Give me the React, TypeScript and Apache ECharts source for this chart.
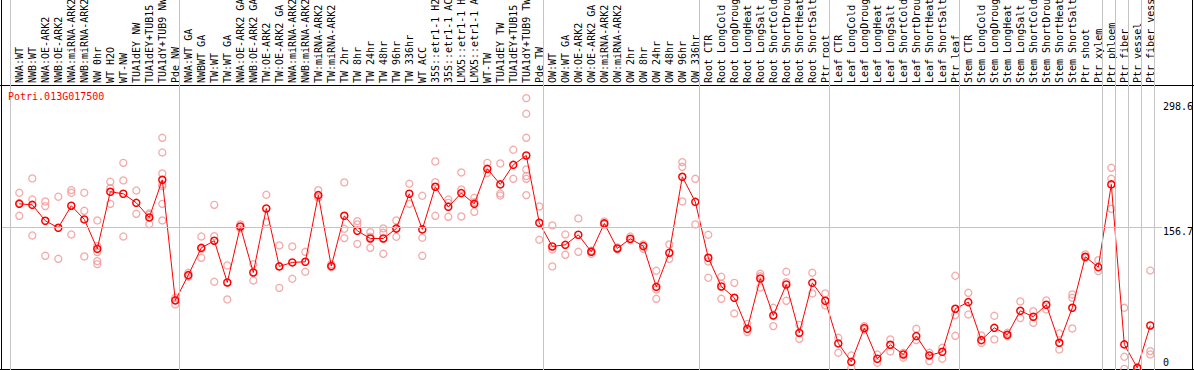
import React, { useEffect, useRef } from "react";
import * as echarts from "echarts";

const geneId = "Potri.013G017500";

const categories = [
  "NWA:WT", "NWB:WT", "NWA:OE-ARK2", "NWB:OE-ARK2", "NWA:miRNA-ARK2", "NWB:miRNA-ARK2",
  "NW 0hr", "WT H2O", "WT-NW", "TUA1dEY NW", "TUA1dEY+TUB15 NW", "TUA1dY+TUB9 NW", "Pde NW",
  "NWA:WT GA", "NWBWT GA", "TW:WT", "TW:WT GA", "NWA:OE-ARK2 GA", "NWB:OE-ARK2 GA",
  "TW:OE-ARK2", "TW:OE-ARK2 GA", "NWA:miRNA-ARK2 GA", "NWB:miRNA-ARK2 GA", "TW:miRNA-ARK2",
  "TW:miRNA-ARK2 GA", "TW 2hr", "TW 8hr", "TW 24hr", "TW 48hr", "TW 96hr", "TW 336hr",
  "WT ACC", "35S::etr1-1 H2O", "35S::etr1-1 ACC", "LMX5::etr1-1 H2O", "LMX5::etr1-1 ACC",
  "WT-TW", "TUA1dEY TW", "TUA1dEY+TUB15 TW", "TUA1dY+TUB9 TW", "Pde TW",
  "OW:WT", "OW:WT GA", "OW:OE-ARK2", "OW:OE-ARK2 GA", "OW:miRNA-ARK2", "OW:miRNA-ARK2 GA",
  "OW 2hr", "OW 8hr", "OW 24hr", "OW 48hr", "OW 96hr", "OW 336hr",
  "Root CTR", "Root LongCold", "Root LongDrought", "Root LongHeat", "Root LongSalt",
  "Root ShortCold", "Root ShortDrought", "Root ShortHeat", "Root ShortSalt", "Ptr root",
  "Leaf CTR", "Leaf LongCold", "Leaf LongDrought", "Leaf LongHeat", "Leaf LongSalt",
  "Leaf ShortCold", "Leaf ShortDrought", "Leaf ShortHeat", "Leaf ShortSalt", "Ptr leaf",
  "Stem CTR", "Stem LongCold", "Stem LongDrought", "Stem LongHeat", "Stem LongSalt",
  "Stem ShortCold", "Stem ShortDrought", "Stem ShortHeat", "Stem ShortSalt", "Ptr shoot",
  "Ptr xylem", "Ptr phloem", "Ptr fiber", "Ptr vessel", "Ptr fiber vessel",
];

const means = [
  182.1, 181.0, 163.4, 155.7, 180.0, 164.9, 132.5, 195.4, 193.2, 183.2, 167.1, 208.6, 75.6,
  103.5, 133.6, 141.4, 95.4, 157.1, 106.4, 177.0, 113.1, 117.5, 118.2, 191.7, 113.4,
  168.9, 152.4, 143.9, 143.9, 154.8, 193.2, 153.9, 200.9, 178.8, 193.9, 182.1,
  220.7, 203.5, 225.1, 235.4, 161.2,
  135.1, 136.9, 148.0, 129.2, 160.5, 132.9, 143.6, 135.5, 90.6, 128.1, 211.9, 184.3,
  122.6, 91.0, 78.5, 44.3, 99.8, 59.0, 93.2, 39.9, 95.0, 75.2,
  28.2, 7.9, 45.1, 11.3, 26.7, 16.0, 36.3, 14.9, 19.0, 66.4,
  73.7, 31.8, 45.4, 37.7, 64.2, 57.6, 70.8, 28.9, 67.5, 123.7, 112.3,
  203.5, 27.1, 1.3, 48.0,
];

const replicates = [
  [194.3, 183, 168.9], [210.1, 186.9, 147.2], [184.7, 179.6, 124.8], [189.9, 121.5],
  [197.2, 194.3, 148.3], [194.3, 174.4, 124.1], [163.8, 135.5, 128.9, 118.9, 115.6],
  [206.4, 199.4, 182.1], [227.3, 207.9, 146.1], [196.8, 171.1], [171.5, 170, 159.7],
  [254.9, 238.7, 215.6, 203.5, 201.6, 182.1, 163.8], [78.5, 76, 71.2],
  [106.1, 103, 101.7], [146.1, 132, 122.6], [181.0, 146.5, 96.2], [114.2, 76.7],
  [159.4, 155], [115.6, 97.6], [192.1, 161.9], [136.2, 113, 89.5], [135.1, 99.5],
  [129.2, 107.2], [197.2, 189.9, 188.8], [115.3, 112.3], [205.7, 154.6, 144.3],
  [163.0, 159.4, 138.0], [150.9, 146, 133.6], [155.0, 150.2, 127.0], [163.8, 155.4, 145.8],
  [204.2, 182.1], [191.0, 144.7, 124.8], [228.8, 206.0, 168.9], [186.9, 183.2, 167.8],
  [216.7, 198.0, 168.2], [188.8, 184, 173.3], [227.3, 216.3], [226.6, 193.5, 191.3],
  [241.7, 209.7], [298.6, 281.4, 254.9, 220.0, 212.7, 209.7, 191.7], [179.2, 142.5],
  [158.3, 131.8, 113.1], [148.3, 125.9], [166.0, 129.2], [130.3, 130, 127.0],
  [162.7, 159.4], [134, 132], [146.1, 142.1], [137.3, 132.5], [108.3, 87.7, 77.4],
  [137.3, 121.5], [228.1, 222.9, 184.7], [209.7, 159.4],
  [148.0, 118.6, 100.6], [101.7, 94, 77.4], [95.0, 61.2], [49.8, 40.7], [105.0, 102.4, 89.9],
  [67.5, 47.3], [107.2, 95.8, 75.2], [48.7, 33.3], [106.1, 83.3], [83.3, 70.1],
  [34.4, 17.9], [14.9, 1.3], [47.3, 43.6], [16.0, 6.9], [32.6, 19.3], [17.9, 12.4],
  [44.3, 31.8], [17.9, 8.7], [23.4, 11.3], [102.8, 59.4, 36.6],
  [84.0, 60.1], [37.0, 28.9], [58.7, 32.6], [39.9, 36.3], [74.5, 56.1], [63.8, 50.9],
  [75.6, 65.6], [39.2, 21.5], [82.2, 78.5, 44.7], [126.3, 122.6], [120.0, 107.9],
  [221.8, 209.7, 176.6], [67.5, 13.5, 0.2], [2, 0.5], [108.6, 19.7, 16.0],
];

const groupBoundaries = [0, 13, 41, 53, 63, 73, 84, 85, 86, 87, 88];
const referenceLine = 156.7;
const yLabelValues = [298.6, 156.7, 0];
const yMax = 313.1;

const FONT = "DejaVu Sans Mono";

export default function App() {
  const ref = useRef<HTMLDivElement>(null);

  useEffect(() => {
    document.body.style.margin = "0";
    if (!ref.current) return;
    const chart = echarts.init(ref.current, null, { renderer: "svg" });

    const repPoints: number[][] = [];
    replicates.forEach((reps, i) => reps.forEach((v) => repPoints.push([i, v])));

    const labelAxis = (value: number, align: string, padding: number[]) => ({
      type: "value",
      gridIndex: 2,
      min: 0,
      max: yMax,
      position: "right",
      axisLine: { show: false },
      axisTick: { show: false },
      splitLine: { show: false },
      axisLabel: {
        show: true,
        customValues: [value],
        margin: 1,
        verticalAlign: align,
        padding,
        fontFamily: FONT,
        fontSize: 10,
        color: "#000",
      },
    });

    chart.setOption({
      animation: false,
      backgroundColor: "#fff",
      title: {
        text: geneId,
        left: 8,
        top: 91,
        padding: 0,
        textStyle: { color: "#ff0000", fontFamily: FONT, fontSize: 10, fontWeight: "normal" },
      },
      grid: [
        { left: 12.8, top: 85, width: 1144, bottom: 1, outerBoundsMode: "none", containLabel: false },
        { left: 10.5, top: 0, width: 1144, bottom: 0, outerBoundsMode: "none", containLabel: false },
        { left: 2, top: 85, width: 1160, bottom: 1, outerBoundsMode: "none", containLabel: false },
      ],
      xAxis: [
        {
          type: "category",
          gridIndex: 0,
          data: categories,
          position: "top",
          boundaryGap: true,
          axisLine: { show: false },
          axisTick: { show: false },
          splitLine: { show: false },
          axisLabel: {
            rotate: 90,
            interval: 0,
            margin: 2,
            fontFamily: FONT,
            fontSize: 10,
            color: "#000",
          },
        },
        { type: "value", gridIndex: 1, min: 0, max: 88, show: false },
        { type: "value", gridIndex: 2, min: 0, max: 1, show: false },
      ],
      yAxis: [
        { type: "value", gridIndex: 0, min: 0, max: yMax, show: false },
        { type: "value", gridIndex: 1, min: 0, max: 1, show: false },
        labelAxis(yLabelValues[0], "top", [3, 0, 0, 0]),
        labelAxis(yLabelValues[1], "top", [0, 0, 0, 0]),
        labelAxis(yLabelValues[2], "bottom", [0, 0, 2, 0]),
      ],
      series: [
        {
          type: "line",
          xAxisIndex: 1,
          yAxisIndex: 1,
          data: [],
          silent: true,
          markLine: {
            silent: true,
            symbol: ["none", "none"],
            label: { show: false },
            emphasis: { disabled: true },
            lineStyle: { color: "#c4c4c4", width: 1, type: "solid" },
            data: groupBoundaries.map((b) => ({ xAxis: b })),
          },
        },
        {
          type: "line",
          xAxisIndex: 2,
          yAxisIndex: 2,
          data: [],
          silent: true,
          markLine: {
            silent: true,
            symbol: ["none", "none"],
            label: { show: false },
            emphasis: { disabled: true },
            lineStyle: { color: "#c4c4c4", width: 1, type: "solid" },
            data: [{ yAxis: referenceLine }],
          },
        },
        {
          type: "scatter",
          xAxisIndex: 0,
          yAxisIndex: 0,
          data: repPoints,
          symbol: "circle",
          symbolSize: 7,
          silent: true,
          clip: false,
          itemStyle: { color: "rgba(0,0,0,0)", borderColor: "#f09595", borderWidth: 1.3 },
          z: 3,
        },
        {
          type: "line",
          xAxisIndex: 0,
          yAxisIndex: 0,
          data: means,
          symbol: "circle",
          symbolSize: 7,
          showSymbol: true,
          silent: true,
          clip: false,
          lineStyle: { color: "#ff0000", width: 1 },
          itemStyle: { color: "rgba(0,0,0,0)", borderColor: "#ff0000", borderWidth: 1.5 },
          z: 4,
        },
      ],
      graphic: [
        { type: "line", silent: true, shape: { x1: 1.5, y1: 0, x2: 1.5, y2: 370 }, style: { stroke: "#000", lineWidth: 1 } },
        { type: "line", silent: true, shape: { x1: 1192.5, y1: 0, x2: 1192.5, y2: 370 }, style: { stroke: "#000", lineWidth: 1 } },
        { type: "line", silent: true, shape: { x1: 0, y1: 85.5, x2: 1194, y2: 85.5 }, style: { stroke: "#000", lineWidth: 1 } },
        { type: "line", silent: true, shape: { x1: 0, y1: 369.5, x2: 1194, y2: 369.5 }, style: { stroke: "#000", lineWidth: 1 } },
      ],
    });

    return () => chart.dispose();
  }, []);

  return <div ref={ref} style={{ width: 1194, height: 370 }} />;
}
